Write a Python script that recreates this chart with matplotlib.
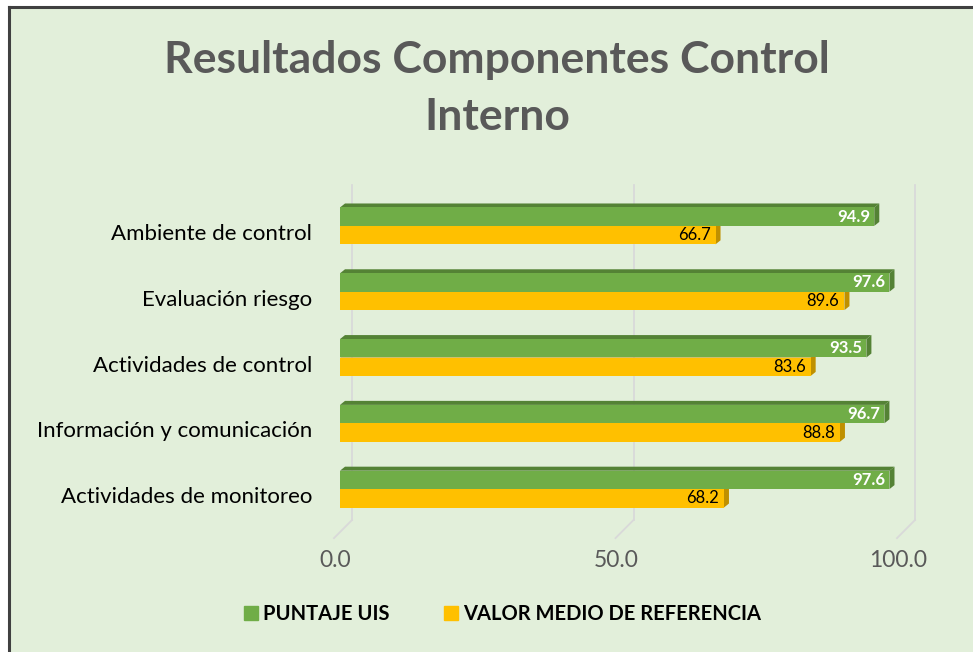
import matplotlib
matplotlib.use("Agg")
import matplotlib.pyplot as plt
from matplotlib.transforms import ScaledTranslation, IdentityTransform
from matplotlib.patches import Polygon, Rectangle
from matplotlib.lines import Line2D

categories = ["Ambiente de control", "Evaluación riesgo", "Actividades de control",
              "Información y comunicación", "Actividades de monitoreo"]
puntaje_uis = [94.9, 97.6, 93.5, 96.7, 97.6]
valor_medio = [66.7, 89.6, 83.6, 88.8, 68.2]
x_ticks = [0, 50, 100]
x_tick_labels = ["0.0", "50.0", "100.0"]
series_names = ["PUNTAJE UIS", "VALOR MEDIO DE REFERENCIA"]

GREEN = "#70AD47"
GREEN_D = "#548235"
YELLOW = "#FFC000"
YELLOW_D = "#BF9000"
BG = "#E2EFDA"
FONT = "Lato"

W, H = 973, 652
fig = plt.figure(figsize=(W / 100, H / 100), dpi=100)
fig.patch.set_facecolor("white")

# chart area background and border
fig.patches.append(Rectangle((9 / W, 0), 1, 1 - 7 / H, transform=fig.transFigure,
                             facecolor=BG, edgecolor="none", zorder=-5))
fig.lines.append(Line2D([9 / W, 9 / W], [0, 1 - 7 / H], transform=fig.transFigure,
                        color="#404040", lw=2.2, zorder=-4))
fig.lines.append(Line2D([9 / W, 1], [1 - 7 / H, 1 - 7 / H], transform=fig.transFigure,
                        color="#404040", lw=2.2, zorder=-4))

ax_left, ax_right = 340, 903
ax_top, ax_bot = 193, 522
ax = fig.add_axes([ax_left / W, 1 - ax_bot / H, (ax_right - ax_left) / W, (ax_bot - ax_top) / H])
ax.set_facecolor("none")
for s in ax.spines.values():
    s.set_visible(False)
ax.set_xlim(0, 100)
ax.set_ylim(len(categories) - 0.5, -0.5)

def px(dx, dy):
    return ScaledTranslation(dx / 100, dy / 100, fig.dpi_scale_trans)

IDT = IdentityTransform()

# back gridlines with 3D floor diagonal
gtrans = ax.get_xaxis_transform()
for xv in x_ticks:
    ax.plot([xv, xv], [1.024, 0.006], transform=gtrans + px(12, 0), color="#D9D9D9",
            lw=1.3, clip_on=False, zorder=0)
    p0 = (gtrans + px(12, 0)).transform((xv, 0.006))
    p1 = (gtrans + px(-6, 0)).transform((xv, -0.049))
    ax.add_line(Line2D([p0[0], p1[0]], [p0[1], p1[1]], transform=IDT,
                       color="#D9D9D9", lw=1.3, clip_on=False, zorder=0))

h = 0.28
ys = list(range(len(categories)))
DX, DY = 5, 4

def faces(y_top, y_bot, v, col_top, col_side, z):
    td = ax.transData
    a = td.transform((0, y_top))
    b = td.transform((v, y_top))
    c = td.transform((v, y_bot))
    top = [a, b, (b[0] + DX, b[1] + DY), (a[0] + DX, a[1] + DY)]
    side = [b, c, (c[0] + DX, c[1] + DY), (b[0] + DX, b[1] + DY)]
    for poly, col in ((top, col_top), (side, col_side)):
        ax.add_patch(Polygon(poly, closed=True, transform=IDT, facecolor=col,
                             edgecolor="none", zorder=z, clip_on=False))

for y, g, yv in zip(ys, puntaje_uis, valor_medio):
    faces(y, y + h, yv, YELLOW_D, YELLOW_D, 1.5)
    ax.barh(y + h / 2, yv, height=h, color=YELLOW, zorder=2)
    faces(y - h, y, g, GREEN_D, GREEN_D, 2.5)
    ax.barh(y - h / 2, g, height=h, color=GREEN, zorder=3)
    ax.text(g, y - h / 2, f"{g:.1f}", ha="right", va="center", color="white",
            fontsize=12, fontweight="bold", family=FONT, transform=ax.transData + px(-4, 0), zorder=5)
    ax.text(yv, y + h / 2, f"{yv:.1f}", ha="right", va="center", color="black",
            fontsize=12, family=FONT, transform=ax.transData + px(-5, 0), zorder=5)

ax.set_yticks(ys)
ax.set_yticklabels(categories, fontsize=16, family=FONT, color="black")
ax.tick_params(axis="y", length=0, pad=20)
for lab in ax.get_yticklabels():
    lab.set_transform(lab.get_transform() + px(0, -6))

ax.set_xticks(x_ticks)
ax.set_xticklabels(x_tick_labels, fontsize=16.5, family=FONT, color="#595959")
ax.tick_params(axis="x", length=0, pad=20)
for lab in ax.get_xticklabels():
    lab.set_transform(lab.get_transform() + px(-5, 0))

fig.text(497 / W, 1 - 60 / H, "Resultados Componentes Control", ha="center", va="center",
         fontsize=32, fontweight="bold", family=FONT, color="#595959")
fig.text(497 / W, 1 - 117 / H, "Interno", ha="center", va="center",
         fontsize=32, fontweight="bold", family=FONT, color="#595959")

handles = [Line2D([], [], marker="s", ls="none", markersize=10, color=c) for c in (GREEN, YELLOW)]
leg = fig.legend(handles, series_names, loc="center", bbox_to_anchor=(502 / W, 1 - 614 / H),
                 ncol=2, frameon=False, handletextpad=0.2, columnspacing=2.65, handlelength=0.8,
                 prop={"family": FONT, "weight": "bold", "size": 14.5})

fig.savefig("out.png", dpi=100, facecolor=fig.get_facecolor())
